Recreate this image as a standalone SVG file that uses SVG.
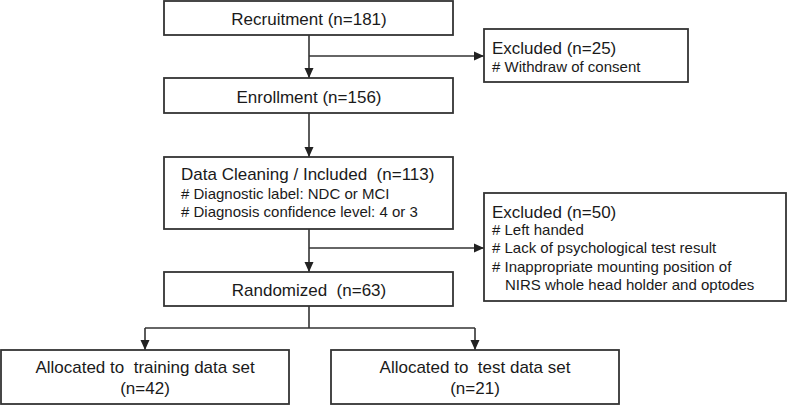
<svg xmlns="http://www.w3.org/2000/svg" width="787" height="405" viewBox="0 0 787 405">
<style>
.box{fill:#fff;stroke:#333;stroke-width:1.8}
.ln{fill:none;stroke:#333;stroke-width:1.6}
text{font-family:"Liberation Sans",Arial,sans-serif;fill:#1a1a1a}
.h{font-size:17px}
.s{font-size:15px}
.c{text-anchor:middle}
</style>
<defs>
<marker id="ah" markerUnits="userSpaceOnUse" markerWidth="10" markerHeight="10" viewBox="0 0 10 10" refX="10" refY="5" orient="auto">
<path d="M0,0.5 L10,5 L0,9.5 Z" fill="#222"/>
</marker>
</defs>
<rect width="787" height="405" fill="#fff"/>
<g id="connectors">
<line class="ln" x1="309" y1="35" x2="309" y2="78" marker-end="url(#ah)"/>
<line class="ln" x1="309" y1="56" x2="484" y2="56" marker-end="url(#ah)"/>
<line class="ln" x1="309" y1="113" x2="309" y2="157" marker-end="url(#ah)"/>
<line class="ln" x1="309" y1="229" x2="309" y2="272" marker-end="url(#ah)"/>
<line class="ln" x1="309" y1="248" x2="484" y2="248" marker-end="url(#ah)"/>
<polyline class="ln" points="309,306 309,328"/>
<polyline class="ln" points="145,328 475,328"/>
<line class="ln" x1="145" y1="328" x2="145" y2="350" marker-end="url(#ah)"/>
<line class="ln" x1="475" y1="328" x2="475" y2="350" marker-end="url(#ah)"/>
</g>
<g id="recruitment">
<rect class="box" x="164" y="1" width="289" height="34"/>
<text class="h c" x="309" y="24.5">Recruitment (n=181)</text>
</g>
<g id="excluded1">
<rect class="box" x="484" y="29" width="204" height="53"/>
<text class="h" x="492" y="53.5">Excluded (n=25)</text>
<text class="s" x="492" y="72"># Withdraw of consent</text>
</g>
<g id="enrollment">
<rect class="box" x="164" y="78" width="289" height="35"/>
<text class="h c" x="309" y="102.5">Enrollment (n=156)</text>
</g>
<g id="cleaning">
<rect class="box" x="164" y="157" width="289" height="72"/>
<text class="h" x="181" y="180" xml:space="preserve">Data Cleaning / Included  (n=113)</text>
<text class="s" x="181" y="199"># Diagnostic label: NDC or MCI</text>
<text class="s" x="181" y="217"># Diagnosis confidence level: 4 or 3</text>
</g>
<g id="excluded2">
<rect class="box" x="484" y="193" width="302" height="108"/>
<text class="h" x="492" y="218">Excluded (n=50)</text>
<text class="s" x="492" y="235"># Left handed</text>
<text class="s" x="492" y="253"># Lack of psychological test result</text>
<text class="s" x="492" y="271.5"># Inappropriate mounting position of</text>
<text class="s" x="505" y="289.5">NIRS whole head holder and optodes</text>
</g>
<g id="randomized">
<rect class="box" x="164" y="272" width="289" height="34"/>
<text class="h c" x="309" y="296" xml:space="preserve">Randomized  (n=63)</text>
</g>
<g id="training">
<rect class="box" x="1" y="350" width="288" height="54"/>
<text class="h c" x="145" y="373" xml:space="preserve">Allocated to  training data set</text>
<text class="h c" x="145" y="393.5">(n=42)</text>
</g>
<g id="test">
<rect class="box" x="331" y="350" width="288" height="54"/>
<text class="h c" x="475" y="373" xml:space="preserve">Allocated to  test data set</text>
<text class="h c" x="475" y="393.5">(n=21)</text>
</g>
</svg>
